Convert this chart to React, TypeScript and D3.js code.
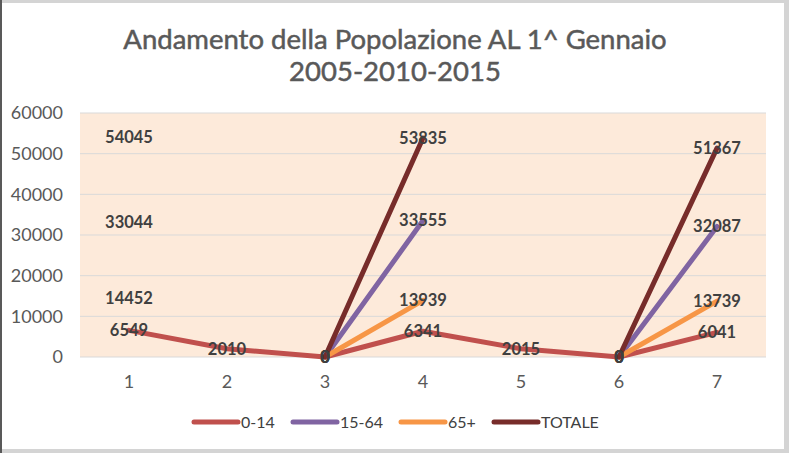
import React from "react";
import * as d3 from "d3";

const categories = ["1", "2", "3", "4", "5", "6", "7"];
const seriesNames = ["0-14", "15-64", "65+", "TOTALE"];
const values014: (number | null)[] = [6549, 2010, 0, 6341, 2015, 0, 6041];
const values1564: (number | null)[] = [33044, null, 0, 33555, null, 0, 32087];
const values65: (number | null)[] = [14452, null, 0, 13939, null, 0, 13739];
const valuesTot: (number | null)[] = [54045, null, 0, 53835, null, 0, 51367];
const yTicks = [0, 10000, 20000, 30000, 40000, 50000, 60000];
const colors = ["#c0504d", "#8064a2", "#f79646", "#772c2a"];
const titleLines = ["Andamento della Popolazione AL 1^ Gennaio", "2005-2010-2015"];

const W = 789;
const H = 453;
const FONT = "Lato, 'Open Sans', sans-serif";

export default function App() {
  const allSeries = [values014, values1564, values65, valuesTot];
  const x = d3.scaleBand<string>().domain(categories).range([80, 766]);
  const y = d3.scaleLinear().domain([0, 60000]).range([357, 113]);
  const cx = (i: number) => (x(categories[i]) as number) + x.bandwidth() / 2;
  const line = d3
    .line<[number, number]>()
    .x((d) => cx(d[0]))
    .y((d) => y(d[1]));

  // split into segments made of consecutive defined points (isolated points draw nothing)
  const segmentsOf = (s: (number | null)[]) => {
    const segs: [number, number][][] = [];
    let cur: [number, number][] = [];
    s.forEach((v, i) => {
      if (v === null) {
        if (cur.length > 1) segs.push(cur);
        cur = [];
      } else cur.push([i, v]);
    });
    if (cur.length > 1) segs.push(cur);
    return segs;
  };

  const legendItems = [
    { lx: 194, tx: 241 },
    { lx: 293, tx: 340 },
    { lx: 401, tx: 448 },
    { lx: 494, tx: 541 },
  ];

  return (
    <svg
      width={W}
      height={H}
      style={{ position: "fixed", left: 0, top: 0 }}
      fontFamily={FONT}
    >
      <rect x={0} y={0} width={W} height={H} fill="#d4d4d4" />
      <rect x={2} y={3} width={782} height={446} fill="#ffffff" />
      <rect x={0} y={0} width={2} height={H} fill="#595959" />
      {titleLines.map((t, i) => (
        <text
          key={i}
          x={395}
          y={49 + i * 32}
          textAnchor="middle"
          fontSize={27.5}
          fill="#595959"
          stroke="#595959"
          strokeWidth={0.5}
        >
          {t}
        </text>
      ))}
      <rect x={80} y={113} width={686} height={244} fill="#fdeada" />
      {yTicks.map((t) => (
        <g key={t}>
          <line
            x1={80}
            x2={766}
            y1={y(t)}
            y2={y(t)}
            stroke="#d9d9d9"
            strokeWidth={1}
          />
          <text
            x={63}
            y={y(t)}
            dy="0.35em"
            textAnchor="end"
            fontSize={18}
            fill="#595959"
          >
            {t}
          </text>
        </g>
      ))}
      {categories.map((c, i) => (
        <text
          key={c}
          x={cx(i)}
          y={388}
          textAnchor="middle"
          fontSize={18}
          fill="#595959"
        >
          {c}
        </text>
      ))}
      {allSeries.map((s, si) =>
        segmentsOf(s).map((seg, k) => (
          <path
            key={`${si}-${k}`}
            d={line(seg) || ""}
            fill="none"
            stroke={colors[si]}
            strokeWidth={5}
            strokeLinejoin="round"
            strokeLinecap="round"
          />
        ))
      )}
      {allSeries.map((s, si) =>
        s.map((v, i) =>
          v === null ? null : (
            <text
              key={`${si}-${i}`}
              x={cx(i)}
              y={y(v)}
              dy="0.35em"
              textAnchor="middle"
              fontSize={16.5}
              fontWeight="bold"
              fill="#404040"
            >
              {v}
            </text>
          )
        )
      )}
      {seriesNames.map((n, i) => (
        <g key={n}>
          <line
            x1={legendItems[i].lx}
            x2={legendItems[i].lx + 44}
            y1={422}
            y2={422}
            stroke={colors[i]}
            strokeWidth={5}
            strokeLinecap="round"
          />
          <text
            x={legendItems[i].tx}
            y={422}
            dy="0.35em"
            fontSize={16}
            fill="#404040"
          >
            {n}
          </text>
        </g>
      ))}
    </svg>
  );
}
